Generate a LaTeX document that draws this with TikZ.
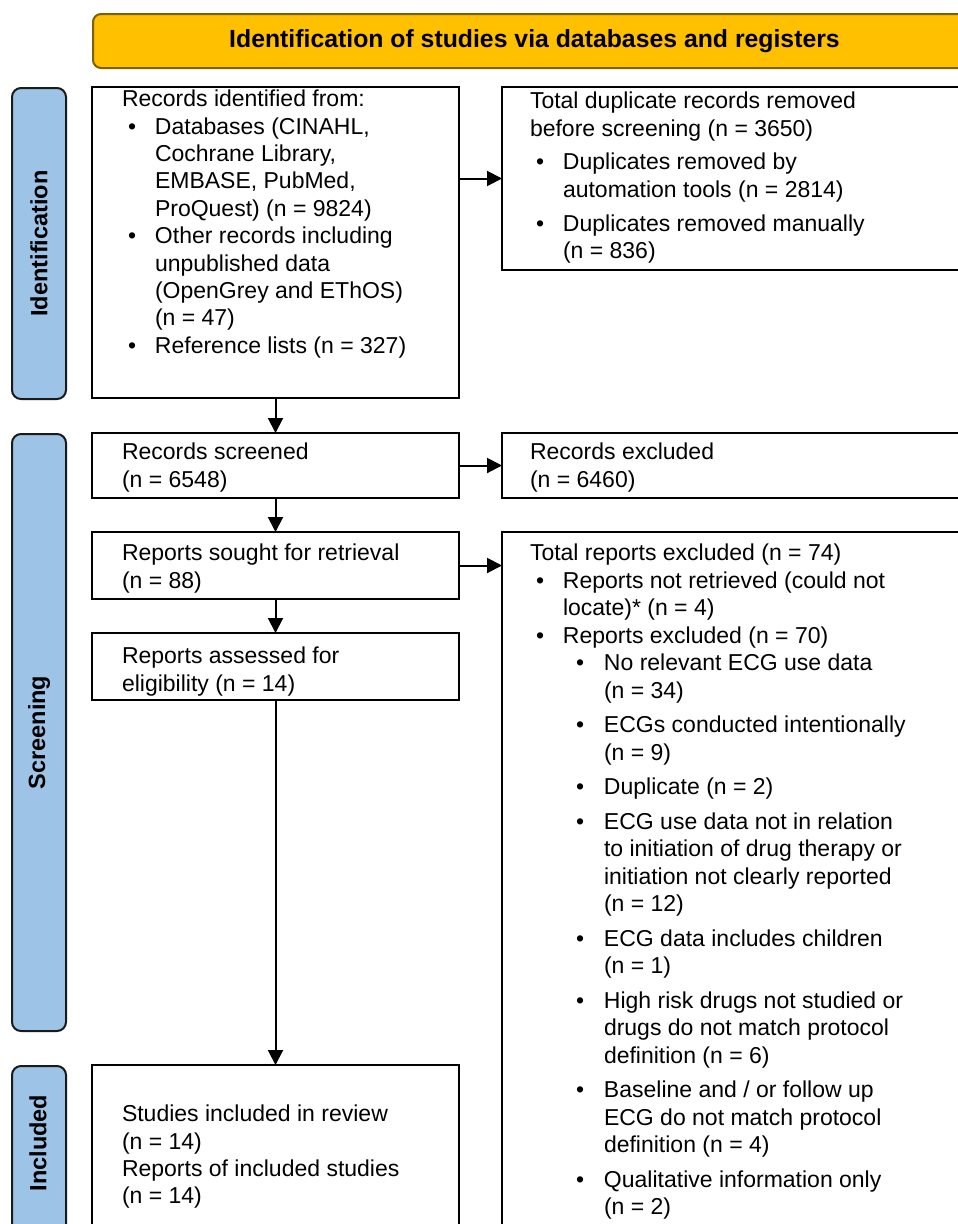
\documentclass[tikz,border=0pt]{standalone}
\usepackage{fontspec}
\setmainfont{Liberation Sans}
\usetikzlibrary{arrows.meta}
\definecolor{hdrfill}{HTML}{FFC000}
\definecolor{hdrline}{HTML}{7F6000}
\definecolor{sidefill}{HTML}{9DC3E6}
\definecolor{sideline}{HTML}{1A1A1A}
\newcommand{\itemA}[1]{\hspace*{6pt}\makebox[27pt][l]{\textbullet}#1}
\newcommand{\contA}[1]{\hspace*{33pt}#1}
\newcommand{\itemB}[1]{\hspace*{46pt}\makebox[28pt][l]{\textbullet}#1}
\newcommand{\contB}[1]{\hspace*{74pt}#1}
\begin{document}
\begin{tikzpicture}[x=1pt,y=-1pt,
  box/.style={draw=black, line width=2pt, rectangle, anchor=north west, inner sep=0pt, outer sep=0pt},
  txt/.style={anchor=north west, inner sep=0pt, outer sep=0pt, align=left, font=\fontsize{23}{27.4}\selectfont},
  side/.style={draw=sideline, fill=sidefill, line width=2pt, rounded corners=9pt, anchor=north west, inner sep=0pt, rectangle},
  sidelabel/.style={rotate=90, inner sep=0pt, font=\fontsize{23.5}{27}\selectfont\bfseries},
  hdr/.style={draw=hdrline, fill=hdrfill, line width=2pt, rounded corners=8pt, anchor=north west, inner sep=0pt, rectangle, font=\fontsize{24.8}{28}\selectfont\bfseries},
  arr/.style={line width=2pt, -{Triangle[length=15pt,width=15pt]}},
]
\useasboundingbox (0,0) rectangle (958,1224);
\clip (0,0) rectangle (958,1224);

% header
\node[hdr, minimum width=883pt, minimum height=54pt] (header) at (92,13) {Identification of studies via databases and registers};

% side bars
\node[side, minimum width=54pt, minimum height=311pt] (sideid) at (11,87) {};
\node[side, minimum width=54pt, minimum height=597pt] (sidescr) at (11,433) {};
\node[side, minimum width=54pt, minimum height=200pt] (sideinc) at (11,1065) {};
\node[sidelabel] (labid) at (sideid.center) {Identification};
\node[sidelabel] (labscr) at (sidescr.center) {Screening};
\node[sidelabel] (labinc) at (38,1143) {Included};

% boxes
\node[box, minimum width=367pt, minimum height=311pt] (idbox) at (92,87) {};
\node[box, minimum width=480pt, minimum height=183pt] (dupbox) at (502,87) {};
\node[box, minimum width=367pt, minimum height=65pt] (scrbox) at (92,433) {};
\node[box, minimum width=480pt, minimum height=65pt] (rexbox) at (502,433) {};
\node[box, minimum width=367pt, minimum height=67pt] (sghtbox) at (92,532) {};
\node[box, minimum width=480pt, minimum height=720pt] (totbox) at (502,532) {};
\node[box, minimum width=367pt, minimum height=67pt] (assbox) at (92,633) {};
\node[box, minimum width=367pt, minimum height=200pt] (incbox) at (92,1065) {};

% texts
\node[txt] (idtxt) at (122,90) {Records identified from:\\
\itemA{Databases (CINAHL,}\\
\contA{Cochrane Library,}\\
\contA{EMBASE, PubMed,}\\
\contA{ProQuest) (n = 9824)}\\
\itemA{Other records including}\\
\contA{unpublished data}\\
\contA{(OpenGrey and EThOS)}\\
\contA{(n = 47)}\\
\itemA{Reference lists (n = 327)}};

\node[txt] (duptxt) at (530,92) {Total duplicate records removed\\
before screening (n = 3650)\\[6.5pt]
\itemA{Duplicates removed by}\\
\contA{automation tools (n = 2814)}\\[6.5pt]
\itemA{Duplicates removed manually}\\
\contA{(n = 836)}};

\node[txt] (scrtxt) at (122,443) {Records screened\\(n = 6548)};
\node[txt] (rextxt) at (530,443) {Records excluded\\(n = 6460)};
\node[txt] (sghttxt) at (122,544) {Reports sought for retrieval\\(n = 88)};
\node[txt] (asstxt) at (122,647) {Reports assessed for\\eligibility (n = 14)};

\node[txt, font=\fontsize{23}{27.5}\selectfont] (tottxt) at (530,544) {Total reports excluded (n = 74)\\
\itemA{Reports not retrieved (could not}\\
\contA{locate)* (n = 4)}\\
\itemA{Reports excluded (n = 70)}\\
\itemB{No relevant ECG use data}\\
\contB{(n = 34)}\\[7pt]
\itemB{ECGs conducted intentionally}\\
\contB{(n = 9)}\\[7pt]
\itemB{Duplicate (n = 2)}\\[7pt]
\itemB{ECG use data not in relation}\\
\contB{to initiation of drug therapy or}\\
\contB{initiation not clearly reported}\\
\contB{(n = 12)}\\[7pt]
\itemB{ECG data includes children}\\
\contB{(n = 1)}\\[7pt]
\itemB{High risk drugs not studied or}\\
\contB{drugs do not match protocol}\\
\contB{definition (n = 6)}\\[7pt]
\itemB{Baseline and / or follow up}\\
\contB{ECG do not match protocol}\\
\contB{definition (n = 4)}\\[7pt]
\itemB{Qualitative information only}\\
\contB{(n = 2)}};

\node[txt] (inctxt) at (122,1105) {Studies included in review\\
(n = 14)\\
Reports of included studies\\
(n = 14)};

% connectors
\draw[arr] (idbox.south) -- (scrbox.north);
\draw[arr] (idbox.east |- dupbox.west) -- (dupbox.west);
\draw[arr] (scrbox.east) -- (rexbox.west);
\draw[arr] (scrbox.south) -- (sghtbox.north);
\draw[arr] (sghtbox.east) -- (sghtbox.east -| totbox.west);
\draw[arr] (sghtbox.south) -- (assbox.north);
\draw[arr] (assbox.south) -- (incbox.north);
\end{tikzpicture}
\end{document}
